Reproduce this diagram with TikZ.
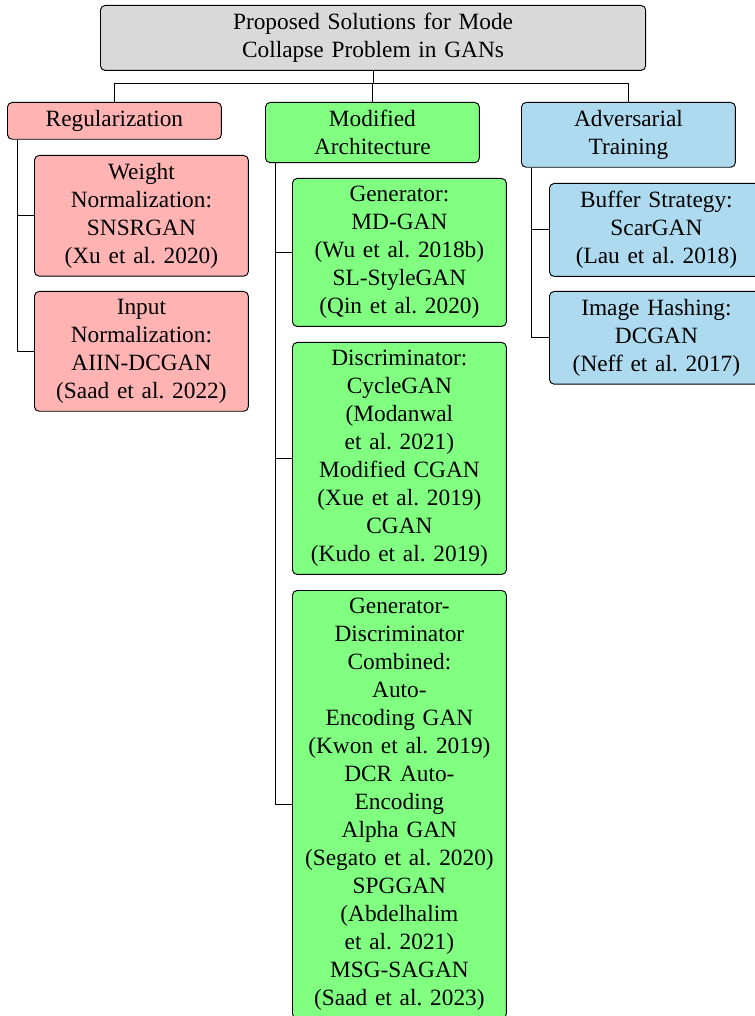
\documentclass[tikz,border=0pt]{standalone}
\usepackage{fontspec}
\setmainfont{Liberation Serif}
\frenchspacing
\definecolor{regc}{RGB}{255,179,179}
\definecolor{archc}{RGB}{128,255,128}
\definecolor{advc}{RGB}{173,218,239}
\definecolor{rootc}{RGB}{217,217,217}
\begin{document}
\begin{tikzpicture}[x=0.428571pt,y=-0.428571pt,
  box/.style={draw=black, rounded corners=2pt, align=center, inner sep=0.3333em,
    font=\fontsize{10}{12}\selectfont\frenchspacing, anchor=north west, text width=85pt},
  regbox/.style={box, fill=regc},
  archbox/.style={box, fill=archc},
  advbox/.style={box, fill=advc},
  rootbox/.style={box, fill=rootc, text width=227pt},
  link/.style={draw=black, line width=0.4pt}]
\useasboundingbox (0,0) rectangle (754,1016);

\node[rootbox] (root) at (100,5) {Proposed Solutions for Mode\\Collapse Problem in GANs};

\node[regbox] (reg) at (7,102) {Regularization};
\node[archbox] (arch) at (265,102) {Modified\\Architecture};
\node[advbox] (adv) at (521,102) {Adversarial\\Training};

\node[regbox] (r1) at (34,155) {Weight\\Normalization:\\SNSRGAN\\(Xu et al. 2020)};
\node[regbox] (r2) at (34,291) {Input\\Normalization:\\AIIN-DCGAN\\(Saad et al. 2022)};

\node[archbox] (a1) at (292,178) {Generator:\\MD-GAN\\(Wu et al. 2018b)\\SL-StyleGAN\\(Qin et al. 2020)};
\node[archbox] (a2) at (292,342) {Discriminator:\\CycleGAN\\(Modanwal\\et al. 2021)\\Modified CGAN\\(Xue et al. 2019)\\CGAN\\(Kudo et al. 2019)};
\node[archbox] (a3) at (292,590) {Generator-\\Discriminator\\Combined:\\Auto-\\Encoding GAN\\(Kwon et al. 2019)\\DCR Auto-\\Encoding\\Alpha GAN\\(Segato et al. 2020)\\SPGGAN\\(Abdelhalim\\et al. 2021)\\MSG-SAGAN\\(Saad et al. 2023)};

\node[advbox] (d1) at (549,183) {Buffer Strategy:\\ScarGAN\\(Lau et al. 2018)};
\node[advbox] (d2) at (549,291) {Image Hashing:\\DCGAN\\(Neff et al. 2017)};

\foreach \c in {reg,arch,adv}
  \draw[link] (root.south) -- (root.south |- 0,83) -| (\c.north);

\foreach \c in {r1,r2}
  \draw[link] (reg.south west) ++(10,0) |- (\c.west);
\foreach \c in {a1,a2,a3}
  \draw[link] (arch.south west) ++(10,0) |- (\c.west);
\foreach \c in {d1,d2}
  \draw[link] (adv.south west) ++(10,0) |- (\c.west);
\end{tikzpicture}
\end{document}
